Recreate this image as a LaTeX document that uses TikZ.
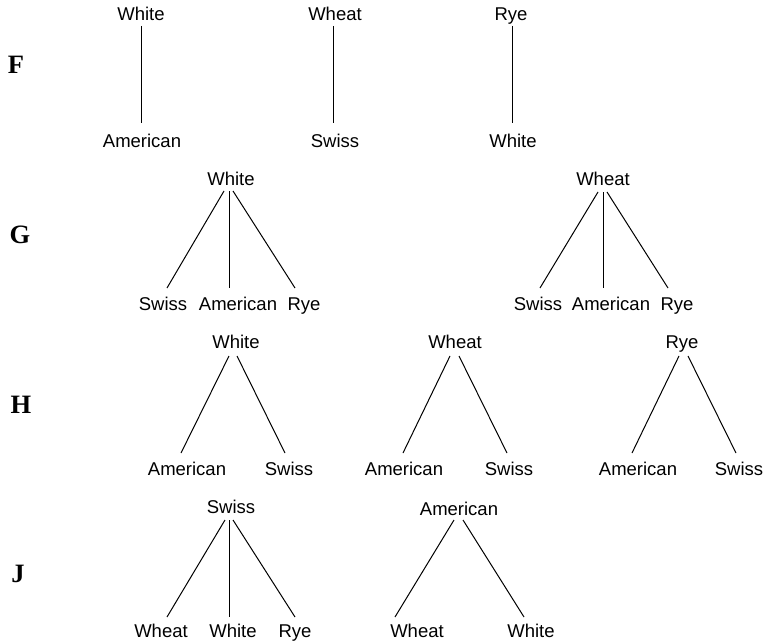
\documentclass[tikz,border=0pt]{standalone}
\usepackage{fontspec}
\setmainfont{Liberation Sans}
\newfontfamily\labfont{Liberation Serif}
\begin{document}
\begin{tikzpicture}[x=1pt,y=-1pt,
  word/.style={anchor=base,inner sep=0pt,font=\fontsize{18.5}{20}\selectfont},
  rowlab/.style={anchor=base,inner sep=0pt,font=\labfont\bfseries\fontsize{26.5}{28}\selectfont},
  edge/.style={line width=1pt,black}]
\useasboundingbox (0,0) rectangle (764,642);
% row labels
\node[rowlab] (LF) at (16,74) {F};
\node[rowlab] (LG) at (20,243) {G};
\node[rowlab] (LH) at (21,413) {H};
\node[rowlab] (LJ) at (18,582) {J};
% F
\node[word] (f1t) at (141,21) {White};
\node[word] (f1b) at (142,147) {American};
\node[word] (f2t) at (335,21) {Wheat};
\node[word] (f2b) at (335,147) {Swiss};
\node[word] (f3t) at (511,21) {Rye};
\node[word] (f3b) at (513,147) {White};
\draw[edge] ([shift={(0.7,5)}]f1t.base) -- ([shift={(-0.3,-24)}]f1b.base);
\draw[edge] ([shift={(-1.5,5)}]f2t.base) -- ([shift={(-1.5,-24)}]f2b.base);
\draw[edge] ([shift={(1.7,5)}]f3t.base) -- ([shift={(-0.3,-24)}]f3b.base);
% G left
\node[word] (g1t) at (231,185) {White};
\node[word] (g1a) at (163,310) {Swiss};
\node[word] (g1b) at (238,310) {American};
\node[word] (g1c) at (304,310) {Rye};
\draw[edge] ([shift={(-7,6)}]g1t.base) -- ([shift={(4,-22)}]g1a.base);
\draw[edge] ([shift={(-2,6)}]g1t.base) -- ([shift={(-9,-22)}]g1b.base);
\draw[edge] ([shift={(2,6)}]g1t.base) -- ([shift={(-9,-22)}]g1c.base);
% G right
\node[word] (g2t) at (603,185) {Wheat};
\node[word] (g2a) at (538,310) {Swiss};
\node[word] (g2b) at (611,310) {American};
\node[word] (g2c) at (677,310) {Rye};
\draw[edge] ([shift={(-5,7)}]g2t.base) -- ([shift={(2,-22)}]g2a.base);
\draw[edge] ([shift={(0,7)}]g2t.base) -- ([shift={(-8,-22)}]g2b.base);
\draw[edge] ([shift={(4,7)}]g2t.base) -- ([shift={(-9,-22)}]g2c.base);
% H
\node[word] (h1t) at (236,348) {White};
\node[word] (h1a) at (187,475) {American};
\node[word] (h1b) at (289,475) {Swiss};
\draw[edge] ([shift={(-7,8)}]h1t.base) -- ([shift={(-6,-22)}]h1a.base);
\draw[edge] ([shift={(1,8)}]h1t.base) -- ([shift={(-4,-22)}]h1b.base);
\node[word] (h2t) at (455,348) {Wheat};
\node[word] (h2a) at (404,475) {American};
\node[word] (h2b) at (509,475) {Swiss};
\draw[edge] ([shift={(-5,8)}]h2t.base) -- ([shift={(-1,-22)}]h2a.base);
\draw[edge] ([shift={(4,8)}]h2t.base) -- ([shift={(-2,-22)}]h2b.base);
\node[word] (h3t) at (682,348) {Rye};
\node[word] (h3a) at (638,475) {American};
\node[word] (h3b) at (739,475) {Swiss};
\draw[edge] ([shift={(-3,8)}]h3t.base) -- ([shift={(-6,-22)}]h3a.base);
\draw[edge] ([shift={(6,8)}]h3t.base) -- ([shift={(-3,-22)}]h3b.base);
% J
\node[word] (j1t) at (231,513) {Swiss};
\node[word] (j1a) at (161,637) {Wheat};
\node[word] (j1b) at (233,637) {White};
\node[word] (j1c) at (295,637) {Rye};
\draw[edge] ([shift={(-6,7)}]j1t.base) -- ([shift={(6,-20)}]j1a.base);
\draw[edge] ([shift={(-2,7)}]j1t.base) -- ([shift={(-4,-20)}]j1b.base);
\draw[edge] ([shift={(2,7)}]j1t.base) -- ([shift={(0,-20)}]j1c.base);
\node[word] (j2t) at (459,515) {American};
\node[word] (j2a) at (417,637) {Wheat};
\node[word] (j2b) at (531,637) {White};
\draw[edge] ([shift={(-5,5)}]j2t.base) -- ([shift={(-22,-20)}]j2a.base);
\draw[edge] ([shift={(4,5)}]j2t.base) -- ([shift={(-7,-20)}]j2b.base);
\end{tikzpicture}
\end{document}
